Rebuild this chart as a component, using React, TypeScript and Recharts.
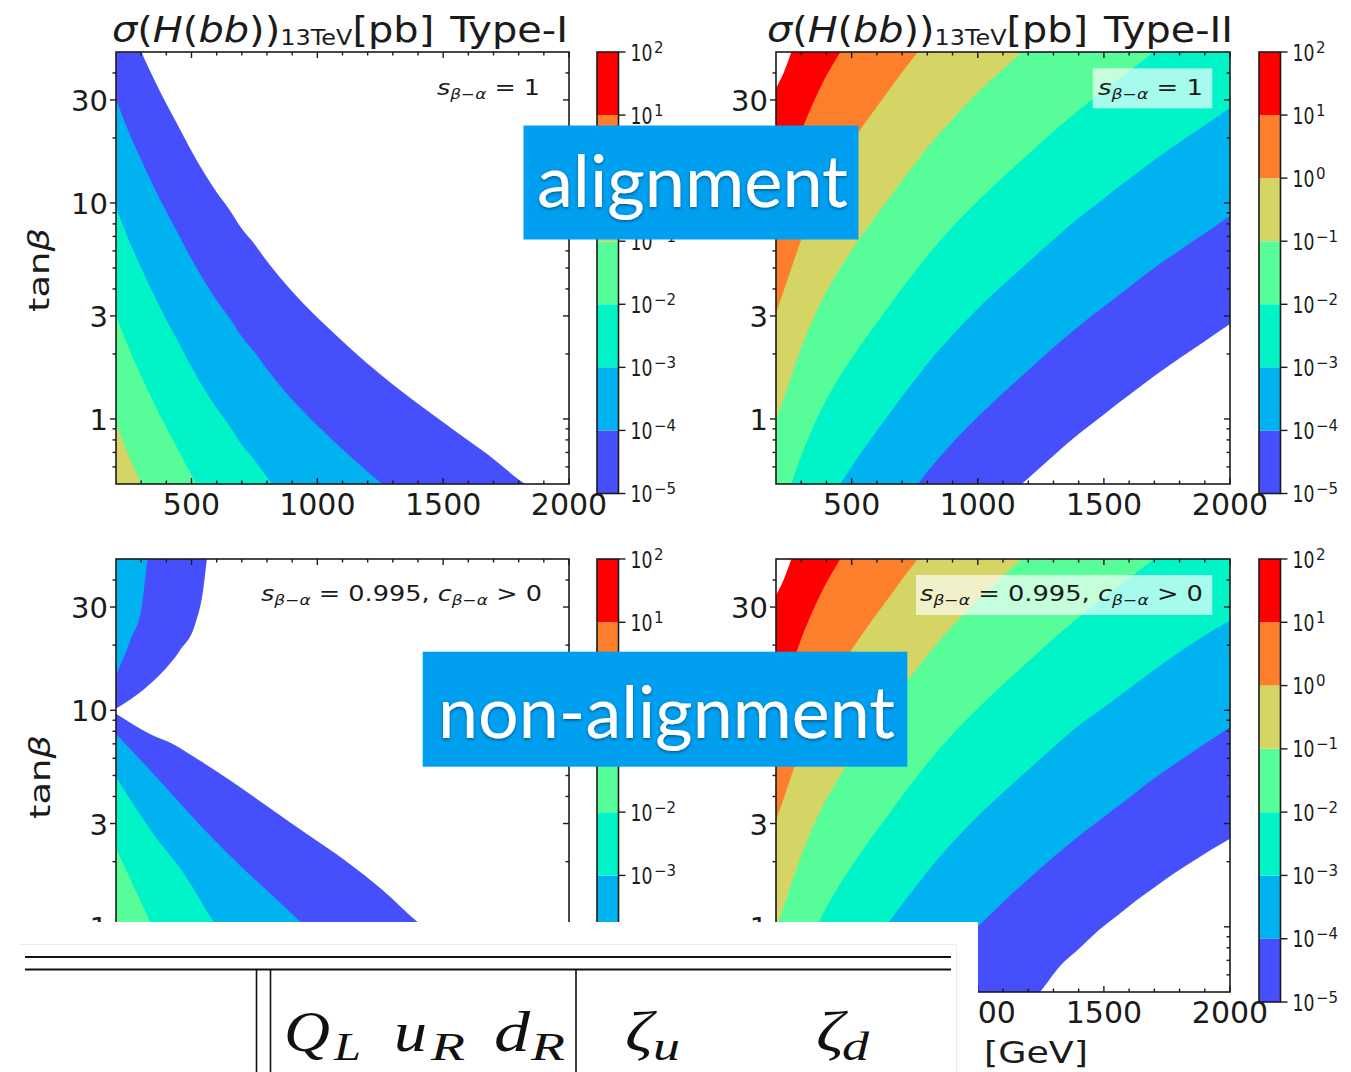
import React from 'react';
import { ComposedChart, Area, XAxis, YAxis, BarChart, Bar } from 'recharts';

type Pt = [number, number];
type Side = 'below' | 'above';
type Band = { pts: Pt[]; fill: string; side: Side };
type Frame = { left: number; top: number; width: number; height: number };

// ---------- axes and colour levels ----------
const MASS_DOMAIN: [number, number] = [200, 2000];
const TANB_DOMAIN: [number, number] = [0.5, 50];
const MASS_MAJOR = [500, 1000, 1500, 2000];
const MASS_MINOR = [300, 400, 600, 700, 800, 900, 1100, 1200, 1300, 1400, 1600, 1700, 1800, 1900];
const TANB_MAJOR = [1, 3, 10, 30];
const TANB_MINOR = [0.6, 0.7, 0.8, 0.9, 2, 4, 5, 6, 7, 8, 9, 20, 40];
const LEVEL_EXPONENTS = [-5, -4, -3, -2, -1, 0, 1, 2];
const LEVEL_COLORS = ['#4550fc', '#00b2ef', '#00f4c8', '#57fd98', '#d5d566', '#fd7f2c', '#ff0000'];
const ABOVE_MAX = '#ffffff';

// ---------- Type-I, s(beta-alpha) = 1 : contour tanβ(m) for sigma = 10^k pb ----------
const typeIAlignE5: Pt[] = [[200, 95.5], [250, 67.6], [300, 50.1], [350, 37.6], [400, 28.8], [450, 22.4], [500, 17.4], [550, 13.8], [600, 11.2], [650, 9.33], [700, 7.59], [750, 6.46], [800, 5.37], [900, 3.89], [1000, 2.95], [1100, 2.29], [1200, 1.8], [1300, 1.445], [1400, 1.175], [1500, 0.966], [1600, 0.794], [1700, 0.653], [1800, 0.525], [1900, 0.44]];
const typeIAlignE4: Pt[] = [[200, 30.2], [250, 21.4], [300, 15.8], [350, 11.9], [400, 9.12], [450, 7.08], [500, 5.5], [550, 4.37], [600, 3.55], [650, 2.95], [700, 2.4], [750, 2.04], [800, 1.7], [900, 1.23], [1000, 0.933], [1100, 0.724], [1200, 0.569], [1300, 0.457], [1400, 0.372]];
const typeIAlignE3: Pt[] = [[200, 9.55], [250, 6.76], [300, 5.01], [350, 3.76], [400, 2.88], [450, 2.24], [500, 1.74], [550, 1.38], [600, 1.12], [650, 0.933], [700, 0.759], [750, 0.646], [800, 0.537], [900, 0.389]];
const typeIAlignE2: Pt[] = [[200, 3.02], [250, 2.14], [300, 1.58], [350, 1.19], [400, 0.912], [450, 0.708], [500, 0.55], [550, 0.437]];
const typeIAlignE1: Pt[] = [[200, 0.955], [250, 0.676], [300, 0.501], [350, 0.376]];

// ---------- Type-II, s(beta-alpha) = 1 ----------
const typeIIAlignE5: Pt[] = [[200, 0.0098], [600, 0.0881], [900, 0.245], [1000, 0.324], [1100, 0.417], [1200, 0.531], [1300, 0.676], [1400, 0.851], [1500, 1.05], [1600, 1.29], [1700, 1.58], [1800, 1.91], [1900, 2.29], [2000, 2.75]];
const typeIIAlignE4: Pt[] = [[200, 0.031], [500, 0.19], [600, 0.279], [700, 0.403], [750, 0.479], [800, 0.569], [900, 0.776], [1000, 1.02], [1100, 1.32], [1200, 1.68], [1300, 2.14], [1400, 2.69], [1500, 3.31], [1600, 4.07], [1700, 5.01], [1800, 6.03], [1900, 7.24], [2000, 8.71]];
const typeIIAlignE3: Pt[] = [[200, 0.098], [300, 0.214], [350, 0.295], [400, 0.389], [450, 0.49], [500, 0.603], [550, 0.733], [600, 0.881], [650, 1.06], [700, 1.27], [750, 1.51], [800, 1.8], [900, 2.45], [1000, 3.24], [1100, 4.17], [1200, 5.31], [1300, 6.76], [1400, 8.51], [1500, 10.5], [1600, 12.9], [1700, 15.8], [1800, 19.1], [1900, 22.9], [2000, 27.5]];
const typeIIAlignE2: Pt[] = [[200, 0.309], [250, 0.457], [300, 0.676], [350, 0.933], [400, 1.23], [450, 1.55], [500, 1.91], [550, 2.32], [600, 2.79], [650, 3.35], [700, 4.03], [750, 4.79], [800, 5.69], [900, 7.76], [1000, 10.2], [1100, 13.2], [1200, 16.8], [1300, 21.4], [1400, 26.9], [1500, 33.1], [1600, 40.7], [1700, 50.1], [1800, 60.3]];
const typeIIAlignE1: Pt[] = [[200, 0.977], [250, 1.45], [300, 2.14], [350, 2.95], [400, 3.89], [450, 4.9], [500, 6.03], [550, 7.33], [600, 8.81], [650, 10.6], [700, 12.7], [750, 15.1], [800, 18.0], [900, 24.5], [1000, 32.4], [1100, 41.7], [1200, 53.1]];
const typeIIAlignE0: Pt[] = [[200, 3.09], [250, 4.57], [300, 6.76], [350, 9.33], [400, 12.3], [450, 15.5], [500, 19.1], [550, 23.2], [600, 27.9], [650, 33.5], [700, 40.3], [750, 47.9], [800, 56.9]];
const typeIIAlignP1: Pt[] = [[200, 9.77], [250, 14.5], [300, 21.4], [350, 29.5], [400, 38.9], [450, 49.0], [500, 60.3]];
const typeIIAlignP2: Pt[] = [[200, 34.0], [230, 40.0], [261, 50.0], [300, 67.6]];

// ---------- Type-I, s(beta-alpha) = 0.995, c(beta-alpha) > 0 ----------
const typeINonAlignLowE5: Pt[] = [[200, 9.65], [333, 7.8], [424, 7.01], [531, 5.88], [653, 4.75], [805, 3.58], [957, 2.69], [1109, 2.03], [1261, 1.47], [1391, 1.07], [1550, 0.776], [1700, 0.575], [1850, 0.436]];
const typeINonAlignLowE4: Pt[] = [[200, 7.8], [348, 5.1], [592, 2.51], [927, 1.07], [1100, 0.69], [1250, 0.48], [1350, 0.38]];
const typeINonAlignLowE3: Pt[] = [[200, 4.92], [348, 2.69], [470, 1.76], [584, 1.07], [700, 0.676], [800, 0.457]];
const typeINonAlignLowE2: Pt[] = [[200, 2.3], [333, 1.07], [400, 0.72], [470, 0.48]];
const typeINonAlignHighE5: Pt[] = [[200, 10.2], [287, 11.9], [379, 14.8], [454, 18.9], [515, 25.1], [546, 35.8], [561, 50.0], [570, 62.0]];
const typeINonAlignHighE4: Pt[] = [[200, 14.5], [257, 21.0], [302, 30.0], [325, 50.0], [335, 62.0]];

// ---------- Type-II, s(beta-alpha) = 0.995, c(beta-alpha) > 0 ----------
const typeIINonAlignE5: Pt[] = [[200, 0.008], [600, 0.075], [900, 0.2], [1000, 0.26], [1100, 0.33], [1150, 0.38], [1247, 0.5], [1329, 0.664], [1400, 0.79], [1477, 0.96], [1550, 1.12], [1627, 1.32], [1700, 1.52], [1776, 1.76], [1850, 2.0], [1925, 2.27], [2000, 2.55]];
const typeIINonAlignE4: Pt[] = [[200, 0.031], [500, 0.19], [600, 0.279], [700, 0.39], [800, 0.55], [900, 0.76], [1000, 1.0], [1100, 1.3], [1200, 1.66], [1300, 2.1], [1400, 2.62], [1500, 3.22], [1600, 3.95], [1700, 4.85], [1800, 5.85], [1900, 7.0], [2000, 8.36]];
const typeIINonAlignE3: Pt[] = [[200, 0.098], [300, 0.214], [350, 0.295], [400, 0.389], [450, 0.49], [500, 0.603], [550, 0.733], [600, 0.881], [650, 1.06], [700, 1.27], [750, 1.51], [800, 1.8], [900, 2.45], [1000, 3.24], [1100, 4.17], [1200, 5.31], [1300, 6.76], [1400, 8.51], [1500, 10.3], [1600, 12.6], [1700, 15.4], [1800, 18.6], [1900, 22.2], [2000, 26.0]];

// ---------- band stacks (drawn from the lowest level up) ----------
const TL_BANDS: Band[] = [
  { pts: typeIAlignE5, fill: LEVEL_COLORS[0], side: 'below' },
  { pts: typeIAlignE4, fill: LEVEL_COLORS[1], side: 'below' },
  { pts: typeIAlignE3, fill: LEVEL_COLORS[2], side: 'below' },
  { pts: typeIAlignE2, fill: LEVEL_COLORS[3], side: 'below' },
  { pts: typeIAlignE1, fill: LEVEL_COLORS[4], side: 'below' },
];
const TR_BANDS: Band[] = [
  { pts: typeIIAlignE5, fill: LEVEL_COLORS[0], side: 'above' },
  { pts: typeIIAlignE4, fill: LEVEL_COLORS[1], side: 'above' },
  { pts: typeIIAlignE3, fill: LEVEL_COLORS[2], side: 'above' },
  { pts: typeIIAlignE2, fill: LEVEL_COLORS[3], side: 'above' },
  { pts: typeIIAlignE1, fill: LEVEL_COLORS[4], side: 'above' },
  { pts: typeIIAlignE0, fill: LEVEL_COLORS[5], side: 'above' },
  { pts: typeIIAlignP1, fill: LEVEL_COLORS[6], side: 'above' },
  { pts: typeIIAlignP2, fill: ABOVE_MAX, side: 'above' },
];
const BL_BANDS: Band[] = [
  { pts: typeINonAlignLowE5, fill: LEVEL_COLORS[0], side: 'below' },
  { pts: typeINonAlignLowE4, fill: LEVEL_COLORS[1], side: 'below' },
  { pts: typeINonAlignLowE3, fill: LEVEL_COLORS[2], side: 'below' },
  { pts: typeINonAlignLowE2, fill: LEVEL_COLORS[3], side: 'below' },
  { pts: typeINonAlignHighE5, fill: LEVEL_COLORS[0], side: 'above' },
  { pts: typeINonAlignHighE4, fill: LEVEL_COLORS[1], side: 'above' },
];
const BR_BANDS: Band[] = [
  { pts: typeIINonAlignE5, fill: LEVEL_COLORS[0], side: 'above' },
  { pts: typeIINonAlignE4, fill: LEVEL_COLORS[1], side: 'above' },
  { pts: typeIINonAlignE3, fill: LEVEL_COLORS[2], side: 'above' },
  { pts: typeIIAlignE2, fill: LEVEL_COLORS[3], side: 'above' },
  { pts: typeIIAlignE1, fill: LEVEL_COLORS[4], side: 'above' },
  { pts: typeIIAlignE0, fill: LEVEL_COLORS[5], side: 'above' },
  { pts: typeIIAlignP1, fill: LEVEL_COLORS[6], side: 'above' },
  { pts: typeIIAlignP2, fill: ABOVE_MAX, side: 'above' },
];

// ---------- layout ----------
const FRAMES: Record<string, Frame> = {
  tl: { left: 116, top: 52, width: 453, height: 432 },
  tr: { left: 776, top: 52, width: 454, height: 432 },
  bl: { left: 116, top: 559, width: 453, height: 433 },
  br: { left: 776, top: 559, width: 454, height: 433 },
};
const CBARS: Record<string, Frame> = {
  tl: { left: 597, top: 52, width: 21.5, height: 441.5 },
  tr: { left: 1259, top: 52, width: 21.5, height: 441.5 },
  bl: { left: 597, top: 559, width: 21.5, height: 443 },
  br: { left: 1259, top: 559, width: 21.5, height: 443 },
};

const INK = '#1b1b1b';
const SANS = '"DejaVu Sans", sans-serif';
const SERIF = '"Liberation Serif", "DejaVu Serif", serif';
const BOX_BLUE = '#009ff0';
// outer space around each plot (axis bands are carved out of it)
const PAD = { left: 120, top: 10, right: 50, bottom: 48 };
const Y_AXIS_W = 40;
const X_AXIS_H = 30;

const toRows = (b: Band) =>
  b.pts.map(([m, t]) => ({ m, span: b.side === 'below' ? [TANB_DOMAIN[0], t] : [t, TANB_DOMAIN[1]] }));

function ContourPanel({ frame, bands }: { frame: Frame; bands: Band[] }) {
  const w = PAD.left + frame.width + PAD.right;
  const h = PAD.top + frame.height + PAD.bottom;
  const x0 = PAD.left;
  const x1 = PAD.left + frame.width;
  const y0 = PAD.top;
  const y1 = PAD.top + frame.height;
  const margin = { left: PAD.left - Y_AXIS_W, top: PAD.top, right: PAD.right, bottom: PAD.bottom - X_AXIS_H };

  const massTick = (p: any) => {
    const v = p.payload.value as number;
    const major = MASS_MAJOR.includes(v);
    const len = major ? 6 : 3.5;
    return (
      <g>
        <line x1={p.x} x2={p.x} y1={y1} y2={y1 - len} stroke={INK} strokeWidth={1.4} />
        <line x1={p.x} x2={p.x} y1={y0} y2={y0 + len} stroke={INK} strokeWidth={1.4} />
        {major ? (
          <text x={p.x} y={y1 + 31} textAnchor="middle" fontSize={30} fontFamily={SANS} fill={INK}>
            {v}
          </text>
        ) : null}
      </g>
    );
  };

  const tanTick = (p: any) => {
    const v = p.payload.value as number;
    const major = TANB_MAJOR.includes(v);
    const len = major ? 6 : 3.5;
    return (
      <g>
        <line x1={x0 - len} x2={x0} y1={p.y} y2={p.y} stroke={INK} strokeWidth={1.4} />
        <line x1={x1 - len} x2={x1} y1={p.y} y2={p.y} stroke={INK} strokeWidth={1.4} />
        {major ? (
          <text x={x0 - 8} y={p.y + 11} textAnchor="end" fontSize={29} fontFamily={SANS} fill={INK}>
            {v}
          </text>
        ) : null}
      </g>
    );
  };

  return (
    <div style={{ position: 'absolute', left: frame.left - PAD.left, top: frame.top - PAD.top }}>
      <ComposedChart width={w} height={h} margin={margin}>
        {bands.map((b, i) => (
          <Area
            key={i}
            data={toRows(b)}
            dataKey="span"
            type="monotone"
            fill={b.fill}
            fillOpacity={1}
            stroke="none"
            dot={false}
            activeDot={false}
            isAnimationActive={false}
          />
        ))}
        <XAxis
          type="number"
          dataKey="m"
          domain={MASS_DOMAIN}
          allowDataOverflow
          ticks={[...MASS_MINOR, ...MASS_MAJOR]}
          interval={0}
          tick={massTick}
          tickLine={false}
          axisLine={false}
          height={X_AXIS_H}
        />
        <YAxis
          type="number"
          scale="log"
          domain={TANB_DOMAIN}
          allowDataOverflow
          ticks={[...TANB_MINOR, ...TANB_MAJOR]}
          interval={0}
          tick={tanTick}
          tickLine={false}
          axisLine={false}
          width={Y_AXIS_W}
        />
      </ComposedChart>
    </div>
  );
}

const CB_PAD = { left: 0, top: 12, right: 90, bottom: 12 };
const CB_AXIS_W = 40;
const levelRow: Record<string, number | string> = { name: 'σ' };
LEVEL_COLORS.forEach((_, i) => {
  levelRow[`d${i}`] = LEVEL_EXPONENTS[i + 1] - LEVEL_EXPONENTS[i];
});

function ColorBar({ frame }: { frame: Frame }) {
  const xr = CB_PAD.left + frame.width;
  const cbTick = (p: any) => {
    const i = p.payload.value as number;
    const e = LEVEL_EXPONENTS[i];
    const sup = e < 0 ? `−${-e}` : `${e}`;
    return (
      <g>
        <line x1={xr} x2={xr + 7} y1={p.y} y2={p.y} stroke={INK} strokeWidth={1.4} />
        <text x={xr + 12} y={p.y + 8.5} fontSize={23} fontFamily={SANS} fill={INK} textLength={22} lengthAdjust="spacingAndGlyphs">
          10
        </text>
        <text x={xr + 35.5} y={p.y + 0.5} fontSize={15} fontFamily={SANS} fill={INK}>
          {sup}
        </text>
      </g>
    );
  };
  return (
    <div style={{ position: 'absolute', left: frame.left - CB_PAD.left, top: frame.top - CB_PAD.top }}>
      <BarChart
        width={CB_PAD.left + frame.width + CB_PAD.right}
        height={CB_PAD.top + frame.height + CB_PAD.bottom}
        data={[levelRow]}
        margin={{ left: CB_PAD.left, top: CB_PAD.top, bottom: CB_PAD.bottom, right: CB_PAD.right - CB_AXIS_W }}
        barCategoryGap={0}
        barGap={0}
      >
        {LEVEL_COLORS.map((c, i) => (
          <Bar key={i} dataKey={`d${i}`} stackId="levels" fill={c} isAnimationActive={false} />
        ))}
        <XAxis dataKey="name" hide />
        <YAxis
          orientation="right"
          type="number"
          domain={[0, LEVEL_COLORS.length]}
          allowDataOverflow
          ticks={LEVEL_EXPONENTS.map((_, i) => i)}
          interval={0}
          tick={cbTick}
          tickLine={false}
          axisLine={false}
          width={CB_AXIS_W}
        />
      </BarChart>
    </div>
  );
}

function Title({ x, label, width }: { x: number; label: string; width: number }) {
  return (
    <text x={x} y={42} fontSize={35} fontFamily={SANS} fill={INK} textLength={width} lengthAdjust="spacingAndGlyphs">
      <tspan fontStyle="italic">σ</tspan>
      <tspan>(</tspan>
      <tspan fontStyle="italic">H</tspan>
      <tspan>(</tspan>
      <tspan fontStyle="italic">bb</tspan>
      <tspan>))</tspan>
      <tspan fontSize={21} dy={3}>13TeV</tspan>
      <tspan dy={-3}>[pb]</tspan>
      <tspan dx={14}>{label}</tspan>
    </text>
  );
}

function Note({ x, y, width, parts }: { x: number; y: number; width: number; parts: 'one' | 'mix' }) {
  return (
    <text x={x} y={y} fontSize={21} fontFamily={SANS} fill={INK} textLength={width} lengthAdjust="spacingAndGlyphs">
      <tspan fontStyle="italic">s</tspan>
      <tspan fontSize={14} dy={4} fontStyle="italic">β−α</tspan>
      {parts === 'one' ? (
        <tspan dy={-4}>{' = 1'}</tspan>
      ) : (
        <>
          <tspan dy={-4}>{' = 0.995, '}</tspan>
          <tspan fontStyle="italic">c</tspan>
          <tspan fontSize={14} dy={4} fontStyle="italic">β−α</tspan>
          <tspan dy={-4}>{' > 0'}</tspan>
        </>
      )}
    </text>
  );
}

function TanBetaLabel({ x, y }: { x: number; y: number }) {
  return (
    <text
      transform={`translate(${x},${y}) rotate(-90)`}
      textAnchor="middle"
      fontSize={29}
      fontFamily={SANS}
      fill={INK}
      textLength={84}
      lengthAdjust="spacingAndGlyphs"
    >
      tan<tspan fontStyle="italic">β</tspan>
    </text>
  );
}

function Overlay() {
  const frameRects = Object.values(FRAMES);
  const barRects = Object.values(CBARS);
  const mainSize = 56;
  const subSize = 40;
  return (
    <svg width={1351} height={1072} style={{ position: 'absolute', left: 0, top: 0 }}>
      <defs>
        <filter id="labelShadow" x="-10%" y="-30%" width="120%" height="160%">
          <feDropShadow dx="0" dy="1.5" stdDeviation="1.6" floodColor="#00345c" floodOpacity="0.65" />
        </filter>
      </defs>

      {frameRects.map((f, i) => (
        <rect key={`f${i}`} x={f.left} y={f.top} width={f.width} height={f.height} fill="none" stroke={INK} strokeWidth={1.6} />
      ))}
      {barRects.map((f, i) => (
        <rect key={`c${i}`} x={f.left} y={f.top} width={f.width} height={f.height} fill="none" stroke={INK} strokeWidth={1.6} />
      ))}

      <Title x={112} label="Type-I" width={456} />
      <Title x={767} label="Type-II" width={466} />

      <TanBetaLabel x={49} y={270} />
      <TanBetaLabel x={50} y={777} />

      <Note x={437} y={95} width={103} parts="one" />
      <rect x={1092.7} y={68.3} width={119.6} height={40} fill="#ffffff" fillOpacity={0.65} />
      <Note x={1098} y={95} width={105} parts="one" />
      <Note x={261} y={601} width={281} parts="mix" />
      <rect x={916} y={575} width={296.3} height={40} fill="#ffffff" fillOpacity={0.65} />
      <Note x={920} y={601} width={283} parts="mix" />

      <text x={984} y={1063} fontSize={31} fontFamily={SANS} fill={INK} textLength={104} lengthAdjust="spacingAndGlyphs">
        [GeV]
      </text>

      <rect x={523.5} y={125.5} width={335} height={114} fill={BOX_BLUE} />
      <text
        x={537}
        y={207}
        fontSize={72}
        fontFamily="Lato, 'Open Sans', sans-serif"
        fill="#ffffff"
        textLength={311}
        lengthAdjust="spacingAndGlyphs"
        filter="url(#labelShadow)"
      >
        alignment
      </text>
      <rect x={422.7} y={651.7} width={484.6} height={115} fill={BOX_BLUE} />
      <text
        x={438}
        y={738}
        fontSize={72}
        fontFamily="Lato, 'Open Sans', sans-serif"
        fill="#ffffff"
        textLength={457}
        lengthAdjust="spacingAndGlyphs"
        filter="url(#labelShadow)"
      >
        non-alignment
      </text>

      {/* table strip */}
      <rect x={0} y={922} width={978} height={150} fill="#ffffff" />
      <line x1={19} x2={956} y1={944.5} y2={944.5} stroke="#ebebeb" strokeWidth={1} />
      <line x1={956.5} x2={956.5} y1={944.5} y2={1072} stroke="#ebebeb" strokeWidth={1} />
      <line x1={25} x2={951} y1={957} y2={957} stroke="#111" strokeWidth={2.2} />
      <line x1={25} x2={951} y1={969.5} y2={969.5} stroke="#111" strokeWidth={2.2} />
      <line x1={256.5} x2={256.5} y1={969.5} y2={1072} stroke="#111" strokeWidth={1.6} />
      <line x1={270.5} x2={270.5} y1={969.5} y2={1072} stroke="#111" strokeWidth={1.6} />
      <line x1={576} x2={576} y1={969.5} y2={1072} stroke="#111" strokeWidth={1.6} />
      <g fontFamily={SERIF} fontStyle="italic" fill="#111">
        <text x={284} y={1051} fontSize={mainSize} textLength={46} lengthAdjust="spacingAndGlyphs">Q</text>
        <text x={334} y={1060} fontSize={subSize} textLength={27} lengthAdjust="spacingAndGlyphs">L</text>
        <text x={394} y={1051} fontSize={mainSize} textLength={33} lengthAdjust="spacingAndGlyphs">u</text>
        <text x={431} y={1060} fontSize={subSize} textLength={34} lengthAdjust="spacingAndGlyphs">R</text>
        <text x={494} y={1051} fontSize={mainSize} textLength={36} lengthAdjust="spacingAndGlyphs">d</text>
        <text x={531} y={1060} fontSize={subSize} textLength={34} lengthAdjust="spacingAndGlyphs">R</text>
        <text x={625} y={1051} fontSize={mainSize} textLength={28} lengthAdjust="spacingAndGlyphs">ζ</text>
        <text x={653} y={1060} fontSize={subSize} textLength={27} lengthAdjust="spacingAndGlyphs">u</text>
        <text x={816} y={1051} fontSize={mainSize} textLength={28} lengthAdjust="spacingAndGlyphs">ζ</text>
        <text x={842} y={1060} fontSize={subSize} textLength={27} lengthAdjust="spacingAndGlyphs">d</text>
      </g>
    </svg>
  );
}

export default function App() {
  return (
    <div style={{ position: 'absolute', left: 0, top: 0, width: 1351, height: 1072, background: '#ffffff', overflow: 'hidden' }}>
      <ContourPanel frame={FRAMES.tl} bands={TL_BANDS} />
      <ContourPanel frame={FRAMES.tr} bands={TR_BANDS} />
      <ContourPanel frame={FRAMES.bl} bands={BL_BANDS} />
      <ContourPanel frame={FRAMES.br} bands={BR_BANDS} />
      <ColorBar frame={CBARS.tl} />
      <ColorBar frame={CBARS.tr} />
      <ColorBar frame={CBARS.bl} />
      <ColorBar frame={CBARS.br} />
      <Overlay />
    </div>
  );
}
